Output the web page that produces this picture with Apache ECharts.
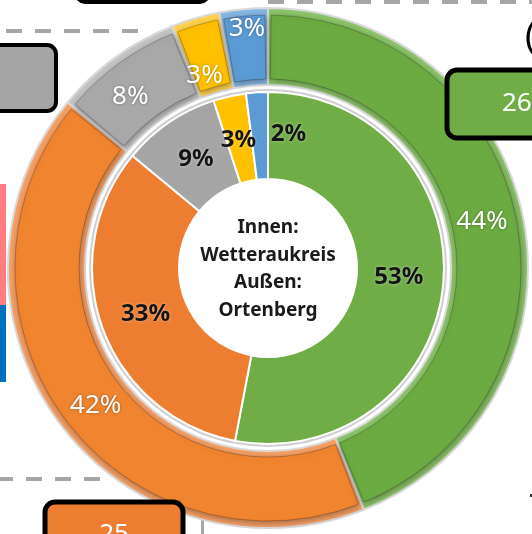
<!DOCTYPE html>
<html><head><meta charset="utf-8">
<script src="https://cdn.jsdelivr.net/npm/echarts@6/dist/echarts.min.js"></script>
<style>html,body{margin:0;padding:0;background:#fff;overflow:hidden}#c{width:532px;height:534px}</style>
</head><body><div id="c"></div>
<script>
// ---- data ----
const categories = ['Grün', 'Orange', 'Grau', 'Gelb', 'Blau'];
const innerValues = [53, 33, 9, 3, 2];   // Innen: Wetteraukreis
const outerValues = [44, 42, 8, 3, 3];   // Außen: Ortenberg
const centerLines = ['Innen:', 'Wetteraukreis', 'Außen:', 'Ortenberg'];
const boxLabels = ['26', '25'];

// ---- styles ----
const innerColors = ['#70ad47', '#ed7d31', '#a5a5a5', '#ffc000', '#5b9bd5'];
const outerColors = ['#6cab41', '#f0842f', '#a8a8a8', '#ffc000', '#5b9bd5'];
const outerRimColors = ['#8cc46a', '#f6a066', '#c4c4c4', '#ffd34d', '#86b6e2'];
const innerOffsets = [[-4, -4], [5, 0], [4, 3], [0, 4], [29, 1]];
const outerOffsets = [[-6, -4], [9, 6], [-6, 10], [-1, 23], [0, -16]];
const C = [268, 268];

const chart = echarts.init(document.getElementById('c'), null, {renderer: 'canvas'});

const innerData = innerValues.map((v, i) => ({
  name: categories[i], value: v,
  itemStyle: {color: innerColors[i]},
  label: {offset: innerOffsets[i]}
}));
const outerBase = outerValues.map((v, i) => ({
  name: categories[i], value: v, itemStyle: {color: outerRimColors[i]}
}));
const outerData = outerValues.map((v, i) => ({
  name: categories[i], value: v,
  itemStyle: {color: outerColors[i]},
  label: {offset: outerOffsets[i]}
}));

const dash = (x1, y1, x2, y2) => ({
  type: 'line', z: 1, silent: true,
  shape: {x1, y1, x2, y2},
  style: {stroke: '#a6a6a6', lineWidth: 4, lineDash: [16, 13]}
});

chart.setOption({
  animation: false,
  backgroundColor: '#ffffff',
  series: [
    { // thin grey outline around the inner ring
      type: 'pie', center: C, radius: [176, 179], silent: true,
      label: {show: false}, labelLine: {show: false},
      itemStyle: {color: '#cfcfcf'},
      data: innerValues.map((v, i) => ({name: categories[i], value: v}))
    },
    { // inner ring: Wetteraukreis
      type: 'pie', center: C, radius: [89, 176], silent: true,
      itemStyle: {borderColor: '#ffffff', borderWidth: 2},
      label: {
        show: true, position: 'inside', formatter: '{c}%',
        fontFamily: 'Noto Sans', fontWeight: 'bold', fontSize: 24, color: '#141414',
        textShadowColor: 'rgba(255,255,255,0.5)', textShadowBlur: 3
      },
      labelLine: {show: false},
      data: innerData
    },
    { // outer ring rim (light bevel)
      type: 'pie', center: C, radius: [183, 260], silent: true,
      itemStyle: {borderColor: '#d9d9d9', borderWidth: 2},
      label: {show: false}, labelLine: {show: false},
      data: outerBase
    },
    { // outer ring face: Ortenberg
      type: 'pie', center: C, radius: [189, 253], silent: true, padAngle: 1.4,
      itemStyle: {
        borderColor: 'rgba(0,0,0,0.22)', borderWidth: 1,
        shadowBlur: 6, shadowColor: 'rgba(0,0,0,0.35)', shadowOffsetX: 1, shadowOffsetY: 2
      },
      label: {
        show: true, position: 'inside', formatter: '{c}%',
        fontFamily: 'Noto Sans', fontSize: 26, color: '#ffffff',
        textShadowColor: 'rgba(0,0,0,0.35)', textShadowBlur: 3
      },
      labelLine: {show: false},
      data: outerData
    }
  ],
  graphic: [
    dash(268, 2, 540, 2),
    dash(6, 31, 140, 31),
    dash(-3, 479, 103, 479),
    {type: 'rect', z: 1, silent: true, shape: {x: 201, y: 520, width: 3, height: 16}, style: {fill: '#a6a6a6'}},
    {type: 'rect', z: 1, silent: true, shape: {x: 0, y: 184, width: 6, height: 121}, style: {fill: '#ff7c80'}},
    {type: 'rect', z: 1, silent: true, shape: {x: 0, y: 305, width: 6, height: 77}, style: {fill: '#0070c0'}},
    {type: 'rect', z: 1, silent: true, shape: {x: 530, y: 494, width: 2, height: 3}, style: {fill: '#333'}},
    {type: 'rect', z: 100, silent: true, shape: {x: 77, y: -30, width: 131, height: 32, r: 8},
      style: {fill: '#ffffff', stroke: '#000', lineWidth: 4}},
    {type: 'rect', z: 100, silent: true, shape: {x: -20, y: 45, width: 76, height: 66, r: 9},
      style: {fill: '#a5a5a5', stroke: '#000', lineWidth: 4}},
    {type: 'rect', z: 100, silent: true, shape: {x: 447, y: 70, width: 120, height: 68, r: 10},
      style: {fill: '#70ad47', stroke: '#000', lineWidth: 5}},
    {type: 'text', z: 101, silent: true, x: 502, y: 104,
      style: {text: boxLabels[0], fill: '#fff', font: '26px "Noto Sans"', textVerticalAlign: 'middle'}},
    {type: 'rect', z: 100, silent: true, shape: {x: 45, y: 502, width: 138, height: 60, r: 10},
      style: {fill: '#ed7d31', stroke: '#000', lineWidth: 5}},
    {type: 'text', z: 101, silent: true, x: 114, y: 535,
      style: {text: boxLabels[1], fill: '#fff', font: '26px "Noto Sans"', textAlign: 'center', textVerticalAlign: 'middle'}},
    {type: 'text', z: 101, silent: true, x: 525, y: 38,
      style: {text: '(', fill: '#000', font: '36px "Noto Sans"', textVerticalAlign: 'middle'}},
    {type: 'text', z: 101, silent: true, x: C[0], y: 269,
      style: {text: centerLines.join('\n'), fill: '#1a1a1a', font: 'bold 19px "Noto Sans"',
        lineHeight: 27.5, textAlign: 'center', textVerticalAlign: 'middle'}}
  ]
});
</script>
</body></html>
